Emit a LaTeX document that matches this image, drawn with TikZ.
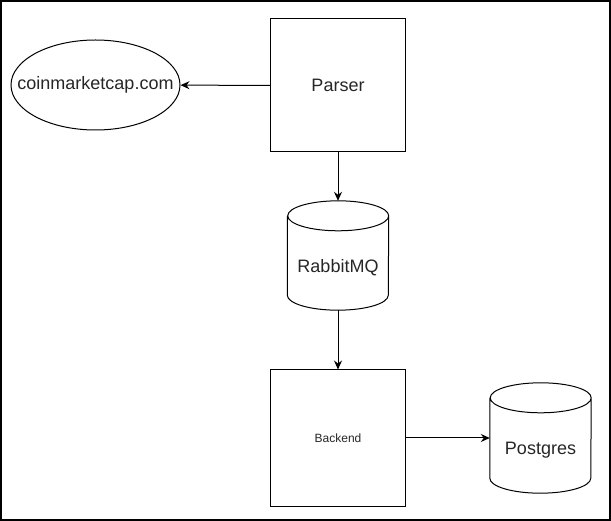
\documentclass[tikz,border=0pt]{standalone}
\usepackage{fontspec}
\setmainfont{Liberation Sans}
\usetikzlibrary{arrows.meta,shapes.geometric}
\tikzset{block/.style={
    % The shape:
    rectangle,
    % The size:
    minimum width=135pt,
    inner sep=0pt,
    % The border:
    line width=1pt,
    draw=black,
    % Font
    font=\fontsize{18}{21}\selectfont,
    text=black!85,
    },
    site/.style={
    ellipse,
    minimum width=169pt,
    minimum height=90pt,
    inner sep=0pt,
    line width=1pt,
    draw=black,
    font=\fontsize{18}{21}\selectfont,
    text=black!85,
    },
    store/.style={
    rectangle,
    minimum width=101pt,
    inner sep=0pt,
    },
    storetext/.style={
    font=\fontsize{18}{21}\selectfont,
    text=black!85,
    },
    flow/.style={
    line width=1pt,
    -{Stealth[length=9pt,width=8pt,inset=3pt]},
    },
}
% cylinder outline round a store node, caps 15pt high
\newcommand{\drawstore}[1]{%
  \draw[line width=1pt]
    ([yshift=-15pt]#1.north west) -- ([yshift=15pt]#1.south west)
    arc[start angle=180,end angle=360,x radius=50.5pt,y radius=15pt]
    -- ([yshift=-15pt]#1.north east)
    arc[start angle=0,end angle=180,x radius=50.5pt,y radius=15pt]
    arc[start angle=180,end angle=360,x radius=50.5pt,y radius=15pt];}

\begin{document}
\begin{tikzpicture}[x=1pt,y=-1pt]
    \useasboundingbox (0,0) rectangle (611,521);
    \draw[line width=2pt] (1,1) rectangle (610,520);

    \node (parser)   [block,minimum height=133pt] at (338,85.5)  {Parser};
    \node (cmc)      [site]                        at (95.5,85)  {\makebox[0pt]{coinmarketcap.com}};
    \node (rabbit)   [store,minimum height=109pt] at (338,255.5) {};
    \node (backend)  [block,minimum height=136pt,font=\fontsize{12}{14}\selectfont] at (338,438) {Backend};
    \node (postgres) [store,minimum height=110pt] at (540.5,438) {};
    \drawstore{rabbit}
    \drawstore{postgres}
    \node (rabbittext)   [storetext] at ([yshift=-12pt]rabbit.center)   {RabbitMQ};
    \node (postgrestext) [storetext] at ([yshift=-12pt]postgres.center) {Postgres};

    \draw[flow] (parser) -- (cmc);
    \draw[flow] (parser) -- (rabbit);
    \draw[flow] (rabbit) -- (backend);
    \draw[flow] (backend) -- (postgres);
\end{tikzpicture}
\end{document}
